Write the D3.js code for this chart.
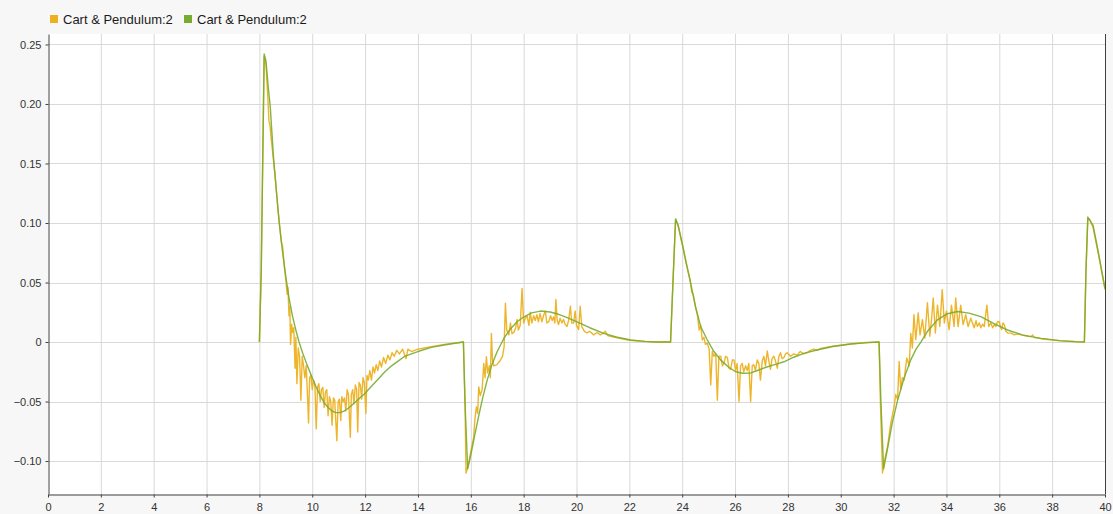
<!DOCTYPE html>
<html>
<head>
<meta charset="utf-8">
<script src="https://cdn.jsdelivr.net/npm/d3@7"></script>
<style>
  html, body { margin: 0; padding: 0; background: #f7f7f7; }
  svg { display: block; font-family: "Liberation Sans", Arial, sans-serif; }
</style>
</head>
<body>
<svg id="chart" width="1113" height="514"></svg>
<script>
// ---- data ----
const seriesNames = ["Cart & Pendulum:2", "Cart & Pendulum:2"];
const seriesColors = ["#EDB120", "#77AC30"];
const xTicks = [0,2,4,6,8,10,12,14,16,18,20,22,24,26,28,30,32,34,36,38,40];
const yTicks = [-0.10,-0.05,0,0.05,0.10,0.15,0.20,0.25];
const xDomain = [0, 40];
const yDomain = [-0.1277, 0.2588];

// smooth (green) signal: [time, value]
const greenSeries = [
  [8.0,0],[8.07,0.06],[8.18,0.242],[8.25,0.236],[8.33,0.215],[8.41,0.198],[8.53,0.156],
  [8.65,0.125],[8.75,0.100],[8.88,0.075],[9.0,0.055],[9.12,0.037],[9.25,0.022],[9.38,0.010],
  [9.5,0.0],[9.65,-0.010],[9.8,-0.019],[10.0,-0.030],[10.15,-0.038],[10.3,-0.045],[10.45,-0.051],
  [10.6,-0.055],[10.75,-0.058],[10.9,-0.0593],[11.05,-0.0592],[11.2,-0.058],[11.4,-0.055],
  [11.6,-0.051],[11.8,-0.047],[12.0,-0.043],[12.25,-0.037],[12.5,-0.031],[12.75,-0.025],
  [13.0,-0.020],[13.25,-0.016],[13.5,-0.012],[13.75,-0.010],[14.0,-0.008],[14.5,-0.0045],
  [15.0,-0.0025],[15.4,-0.001],[15.72,0.0],[15.78,-0.05],[15.88,-0.1065],[16.0,-0.095],
  [16.15,-0.078],[16.3,-0.062],[16.45,-0.047],[16.62,-0.032],[16.8,-0.019],[17.0,-0.008],
  [17.25,0.003],[17.5,0.011],[17.75,0.017],[18.0,0.021],[18.3,0.0245],[18.64,0.026],
  [19.0,0.0252],[19.3,0.0235],[19.65,0.0205],[20.02,0.017],[20.5,0.012],[21.03,0.0073],
  [21.5,0.0042],[22.05,0.0017],[22.6,0.0005],[23.0,0.0],[23.56,0.0],[23.65,0.05],
  [23.75,0.1035],[23.85,0.098],[24.0,0.083],[24.15,0.067],[24.32,0.0495],[24.5,0.030],
  [24.7,0.013],[24.95,0.0017],[25.2,-0.008],[25.45,-0.015],[25.75,-0.021],[26.02,-0.025],
  [26.3,-0.0262],[26.6,-0.026],[26.9,-0.0235],[27.2,-0.021],[27.5,-0.019],[27.85,-0.0166],
  [28.2,-0.013],[28.6,-0.0095],[29.1,-0.0067],[29.7,-0.0038],[30.4,-0.0017],[31.0,-0.0005],
  [31.45,0.0],[31.52,-0.05],[31.62,-0.1065],[31.75,-0.092],[31.95,-0.068],[32.15,-0.049],
  [32.4,-0.030],[32.65,-0.015],[32.85,-0.006],[33.03,0.0],[33.3,0.0095],[33.66,0.0186],
  [34.0,0.0235],[34.42,0.0256],[34.85,0.0243],[35.3,0.0213],[35.8,0.0155],[36.31,0.0101],
  [36.9,0.0058],[37.58,0.0031],[38.3,0.0012],[38.9,0.0003],[39.22,0.0],[39.28,0.06],
  [39.35,0.105],[39.55,0.098],[39.75,0.075],[40.0,0.045]
];

// noisy (orange) signal: [time, value]
const orangeSeries = [
  [8.0,0],[8.07,0.06],[8.18,0.240],[8.25,0.233],[8.32,0.205],[8.36,0.186],[8.40,0.182],
  [8.45,0.170],[8.5,0.160],[8.6,0.138],[8.7,0.112],[8.78,0.095],[8.83,0.084],[8.88,0.080],
  [8.95,0.062],[9.0,0.052],[9.05,0.040],[9.08,0.046],[9.12,0.022],[9.15,0.030],[9.18,-0.002],
  [9.22,0.015],[9.26,0.008],[9.3,0.012],[9.35,-0.022],[9.38,0.004],[9.42,-0.035],[9.47,-0.005],
  [9.52,-0.012],[9.57,-0.049],[9.62,-0.012],[9.67,-0.020],[9.72,-0.030],[9.77,-0.020],
  [9.82,-0.045],[9.86,-0.068],[9.9,-0.030],[9.95,-0.028],[10.0,-0.040],[10.05,-0.032],
  [10.1,-0.036],[10.15,-0.073],[10.2,-0.038],[10.25,-0.035],[10.3,-0.050],[10.35,-0.040],
  [10.4,-0.038],[10.45,-0.055],[10.5,-0.042],[10.55,-0.040],[10.6,-0.062],[10.65,-0.046],
  [10.7,-0.050],[10.75,-0.070],[10.8,-0.047],[10.85,-0.049],[10.93,-0.083],[10.98,-0.050],
  [11.03,-0.048],[11.08,-0.066],[11.12,-0.046],[11.17,-0.050],[11.22,-0.047],[11.27,-0.058],
  [11.32,-0.040],[11.37,-0.044],[11.44,-0.080],[11.48,-0.044],[11.53,-0.040],[11.58,-0.052],
  [11.63,-0.036],[11.68,-0.040],[11.72,-0.0756],[11.77,-0.034],[11.82,-0.036],[11.87,-0.048],
  [11.92,-0.030],[11.97,-0.034],[12.03,-0.060],[12.07,-0.028],[12.12,-0.032],[12.18,-0.024],
  [12.24,-0.032],[12.3,-0.021],[12.36,-0.026],[12.42,-0.019],[12.48,-0.024],[12.55,-0.016],
  [12.62,-0.021],[12.7,-0.013],[12.78,-0.018],[12.86,-0.011],[12.94,-0.015],[13.02,-0.009],
  [13.1,-0.012],[13.2,-0.007],[13.3,-0.010],[13.42,-0.006],[13.55,-0.014],[13.62,-0.006],
  [13.75,-0.008],[14.0,-0.006],[14.5,-0.004],[15.0,-0.002],[15.72,0.0],[15.78,-0.05],
  [15.82,-0.110],[15.9,-0.104],[16.0,-0.092],[16.11,-0.080],[16.15,-0.066],[16.21,-0.0545],
  [16.26,-0.060],[16.3,-0.0377],[16.36,-0.045],[16.43,-0.040],[16.49,-0.018],[16.54,-0.030],
  [16.59,-0.0124],[16.64,-0.026],[16.7,-0.020],[16.74,-0.030],[16.78,0.0073],[16.82,-0.015],
  [16.87,-0.020],[16.99,-0.019],[17.1,-0.016],[17.2,-0.012],[17.26,-0.004],[17.31,0.0326],
  [17.36,0.010],[17.44,0.006],[17.5,0.016],[17.56,0.007],[17.63,0.008],[17.7,0.012],
  [17.75,0.019],[17.8,0.010],[17.87,0.014],[17.94,0.045],[18.0,0.016],[18.06,0.020],
  [18.13,0.022],[18.2,0.014],[18.25,0.025],[18.31,0.016],[18.38,0.022],[18.44,0.018],
  [18.5,0.023],[18.56,0.017],[18.62,0.024],[18.69,0.017],[18.75,0.022],[18.82,0.026],
  [18.88,0.016],[18.95,0.017],[19.02,0.022],[19.08,0.018],[19.13,0.021],[19.18,0.016],
  [19.22,0.0357],[19.27,0.018],[19.32,0.0146],[19.38,0.020],[19.45,0.016],[19.51,0.019],
  [19.57,0.015],[19.64,0.013],[19.7,0.018],[19.77,0.030],[19.82,0.016],[19.89,0.016],
  [19.95,0.026],[20.0,0.014],[20.08,0.0104],[20.14,0.030],[20.2,0.013],[20.3,0.009],
  [20.4,0.0076],[20.5,0.009],[20.65,0.006],[20.78,0.008],[20.9,0.006],[21.0,0.0072],
  [21.09,0.009],[21.18,0.0055],[21.28,0.0048],[21.5,0.0038],[22.0,0.0015],[22.6,0.0003],
  [23.0,0.0],[23.56,0.0],[23.65,0.05],[23.75,0.103],[23.85,0.097],[24.0,0.082],[24.15,0.066],
  [24.3,0.052],[24.36,0.042],[24.42,0.040],[24.5,0.030],[24.58,0.022],[24.64,0.010],
  [24.7,0.014],[24.76,0.0017],[24.82,0.004],[24.88,-0.002],[24.95,-0.001],[25.02,-0.006],
  [25.08,-0.036],[25.14,-0.008],[25.2,-0.012],[25.27,-0.010],[25.33,-0.049],[25.39,-0.012],
  [25.46,-0.012],[25.52,-0.020],[25.58,-0.018],[25.64,-0.012],[25.71,-0.013],[25.77,-0.022],
  [25.83,-0.023],[25.9,-0.015],[25.96,-0.015],[26.02,-0.024],[26.08,-0.018],[26.15,-0.050],
  [26.21,-0.020],[26.27,-0.018],[26.33,-0.025],[26.4,-0.020],[26.46,-0.024],[26.52,-0.018],
  [26.59,-0.050],[26.65,-0.020],[26.71,-0.019],[26.77,-0.024],[26.84,-0.015],[26.9,-0.018],
  [26.96,-0.032],[27.03,-0.016],[27.09,-0.012],[27.15,-0.020],[27.22,-0.0076],[27.28,-0.016],
  [27.34,-0.023],[27.4,-0.014],[27.47,-0.012],[27.53,-0.016],[27.6,-0.022],[27.66,-0.012],
  [27.72,-0.009],[27.78,-0.014],[27.85,-0.013],[27.91,-0.010],[27.97,-0.009],[28.1,-0.012],
  [28.22,-0.010],[28.35,-0.011],[28.47,-0.008],[28.6,-0.010],[28.72,-0.009],[28.85,-0.007],
  [28.98,-0.006],[29.1,-0.007],[29.23,-0.0055],[29.7,-0.0035],[30.4,-0.0015],[31.0,-0.0004],
  [31.45,0.0],[31.5,-0.05],[31.58,-0.110],[31.67,-0.098],[31.77,-0.088],[31.89,-0.0686],
  [31.95,-0.062],[32.02,-0.054],[32.08,-0.044],[32.15,-0.048],[32.21,-0.0163],[32.27,-0.040],
  [32.33,-0.030],[32.4,-0.032],[32.45,-0.022],[32.5,-0.0135],[32.59,-0.020],[32.65,0.0073],
  [32.71,-0.005],[32.77,0.023],[32.84,0.002],[32.93,0.0245],[33.0,0.006],[33.09,0.0188],
  [33.18,0.0034],[33.28,0.033],[33.37,0.0048],[33.44,0.020],[33.5,0.037],[33.58,0.0076],
  [33.66,0.031],[33.75,0.013],[33.84,0.044],[33.92,0.016],[34.0,0.026],[34.1,0.0104],
  [34.19,0.031],[34.29,0.013],[34.35,0.037],[34.44,0.013],[34.54,0.031],[34.63,0.0146],
  [34.73,0.023],[34.82,0.013],[34.92,0.020],[35.05,0.012],[35.12,0.018],[35.17,0.013],
  [35.24,0.016],[35.3,0.012],[35.37,0.015],[35.43,0.013],[35.53,0.031],[35.6,0.013],
  [35.68,0.016],[35.75,0.012],[35.82,0.015],[35.87,0.013],[35.93,0.017],[36.0,0.017],
  [36.05,0.012],[36.09,0.0104],[36.14,0.016],[36.19,0.0146],[36.25,0.009],[36.32,0.0076],
  [36.45,0.0075],[36.57,0.006],[36.7,0.0068],[36.82,0.006],[36.95,0.0055],[37.08,0.0048],
  [37.2,0.0045],[37.26,0.006],[37.32,0.0038],[37.58,0.0028],[38.3,0.0010],[38.9,0.0002],
  [39.22,0.0],[39.28,0.06],[39.35,0.104],[39.42,0.103],[39.55,0.096],[39.75,0.074],[40.0,0.044]
];

// ---- layout ----
const svg = d3.select("#chart");
const margin = {left: 48, right: 8, top: 34, bottom: 20};
const W = 1113, H = 514;
const x0 = margin.left, x1 = W - margin.right;
const y0 = H - margin.bottom, y1 = margin.top;

const x = d3.scaleLinear().domain(xDomain).range([x0, x1]);
const y = d3.scaleLinear().domain(yDomain).range([y0, y1]);

// plot background
svg.append("rect").attr("x", x0).attr("y", y1).attr("width", x1 - x0).attr("height", y0 - y1)
  .attr("fill", "#ffffff");

// grid
const grid = svg.append("g");
grid.selectAll("line.gx").data(xTicks.filter(d => d > xDomain[0] && d < xDomain[1])).join("line")
  .attr("x1", d => x(d) + 0.5).attr("x2", d => x(d) + 0.5).attr("y1", y1).attr("y2", y0)
  .attr("stroke", "#d9d9d9").attr("stroke-width", 1);
grid.selectAll("line.gy").data(yTicks).join("line")
  .attr("x1", x0).attr("x2", x1).attr("y1", d => Math.round(y(d)) + 0.5).attr("y2", d => Math.round(y(d)) + 0.5)
  .attr("stroke", "#d9d9d9").attr("stroke-width", 1);

// lines
const line = d3.line().x(d => x(d[0])).y(d => y(d[1]));
svg.append("path").datum(orangeSeries).attr("d", line)
  .attr("fill", "none").attr("stroke", seriesColors[0]).attr("stroke-width", 1.4)
  .attr("stroke-linejoin", "round").attr("opacity", 0.95);
svg.append("path").datum(greenSeries).attr("d", line)
  .attr("fill", "none").attr("stroke", seriesColors[1]).attr("stroke-width", 1.4)
  .attr("stroke-linejoin", "round").attr("opacity", 0.9);

// axes
const fmtY = d => d === 0 ? "0" : d3.format(".2f")(d);
const xAxis = d3.axisBottom(x).tickValues(xTicks).tickFormat(d3.format("d")).tickSizeInner(3).tickSizeOuter(0);
const yAxis = d3.axisLeft(y).tickValues(yTicks).tickFormat(fmtY).tickSizeInner(3).tickSizeOuter(0);

const gx = svg.append("g").attr("transform", `translate(0,${y0 + 0.5})`).call(xAxis);
const gy = svg.append("g").attr("transform", `translate(${x0 + 0.5},0)`).call(yAxis);
[gx, gy].forEach(g => {
  g.select(".domain").attr("stroke", "#404040");
  g.selectAll(".tick line").attr("stroke", "#404040");
  g.selectAll(".tick text").attr("fill", "#333").attr("font-size", 11)
    .attr("font-family", "\"Liberation Sans\", Arial, sans-serif");
});
gx.selectAll(".tick text").attr("dy", "0.95em");
gy.selectAll(".tick text").attr("x", -7);

// right border
svg.append("line").attr("x1", x1 + 0.5).attr("x2", x1 + 0.5).attr("y1", y1).attr("y2", y0)
  .attr("stroke", "#404040").attr("stroke-width", 1);

// legend
const legend = svg.append("g").attr("transform", "translate(50,15)");
const legX = [0, 134];
seriesNames.forEach((name, i) => {
  const g = legend.append("g").attr("transform", `translate(${legX[i]},0)`);
  g.append("rect").attr("x", 0).attr("y", 0).attr("width", 8).attr("height", 8).attr("fill", seriesColors[i]);
  g.append("text").attr("x", 13).attr("y", 9).attr("font-size", 13).attr("fill", "#1a1a1a")
    .attr("font-family", "\"Liberation Sans\", Arial, sans-serif").text(name);
});
</script>
</body>
</html>
